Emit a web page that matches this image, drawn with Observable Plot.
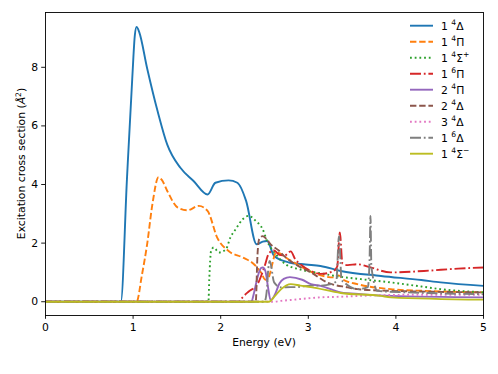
<!DOCTYPE html>
<html>
<head>
<meta charset="utf-8">
<script src="https://cdn.jsdelivr.net/npm/d3@7"></script>
<script src="https://cdn.jsdelivr.net/npm/@observablehq/plot@0.6"></script>
<style>
  html, body { margin: 0; padding: 0; background: #fff; }
  svg { font-family: "DejaVu Sans", sans-serif; }
</style>
</head>
<body>
<div id="chart"></div>
<script>
// ---- data (Energy in eV, cross section in Å^2) ----
const x_1_4Delta = [0, 0.86, 0.93, 0.99, 1.02, 1.04, 1.07, 1.16, 1.28, 1.39, 1.54, 1.69, 1.85, 1.94, 2.09, 2.19, 2.29, 2.41, 2.48, 2.53, 2.61, 2.78, 2.97, 3.14, 3.37, 3.83, 4.29, 4.51, 5.0];
const y_1_4Delta = [0, 0, 4.2, 7.6, 9.1, 9.38, 9.2, 7.97, 6.5, 5.36, 4.57, 4.12, 3.66, 4.06, 4.14, 4.06, 3.44, 1.96, 2.05, 2.07, 1.56, 1.34, 1.27, 1.22, 1.05, 0.88, 0.74, 0.66, 0.54];

const x_1_4Pi = [0, 1.04, 1.1, 1.16, 1.22, 1.29, 1.33, 1.39, 1.51, 1.62, 1.75, 1.85, 1.96, 2.09, 2.25, 2.38, 2.46, 2.51, 2.55, 2.59, 2.63, 2.8, 3.14, 3.29, 3.35, 3.4, 3.56, 3.94, 4.32, 5.0];
const y_1_4Pi = [0, 0, 0.9, 1.96, 3.32, 4.25, 4.15, 3.78, 3.21, 3.12, 3.27, 3.1, 2.19, 1.73, 1.51, 1.28, 1.0, 0.75, 0.85, 1.3, 1.68, 1.4, 0.9, 0.83, 0.9, 0.75, 0.6, 0.43, 0.37, 0.32];

const x_1_4SigmaP = [0, 1.86, 1.87, 1.89, 1.92, 1.98, 2.06, 2.11, 2.17, 2.25, 2.32, 2.4, 2.48, 2.53, 2.63, 2.74, 2.91, 3.14, 3.37, 3.6, 3.94, 4.29, 4.51, 5.0];
const y_1_4SigmaP = [0, 0, 0.8, 1.73, 1.85, 1.68, 1.79, 2.19, 2.47, 2.81, 2.93, 2.76, 2.47, 2.07, 1.62, 1.28, 1.1, 0.97, 0.85, 0.77, 0.66, 0.52, 0.43, 0.32];

const x_1_6Pi = [0, 2.21, 2.25, 2.32, 2.42, 2.5, 2.55, 2.61, 2.67, 2.73, 2.8, 2.85, 2.9, 3.03, 3.14, 3.27, 3.33, 3.36, 3.39, 3.45, 3.56, 3.71, 3.94, 4.32, 4.71, 5.0];
const y_1_6Pi = [0, 0, 0.15, 0.35, 0.6, 1.2, 1.65, 1.75, 1.6, 1.58, 1.72, 1.45, 1.3, 1.05, 0.95, 1.02, 1.2, 2.36, 1.3, 1.25, 1.28, 1.17, 1.0, 1.05, 1.13, 1.17];

const x_2_4Pi = [0, 2.35, 2.38, 2.42, 2.46, 2.48, 2.51, 2.54, 2.57, 2.62, 2.67, 2.72, 2.79, 2.93, 3.03, 3.14, 3.37, 3.6, 3.94, 5.0];
const y_2_4Pi = [0, 0, 0.3, 0.83, 1.15, 1.17, 1.05, 0.5, 0.05, 0.25, 0.62, 0.78, 0.84, 0.75, 0.6, 0.54, 0.32, 0.26, 0.2, 0.15];

const x_2_4Delta = [0, 2.4, 2.42, 2.44, 2.48, 2.52, 2.57, 2.67, 2.71, 2.82, 2.93, 3.03, 3.22, 3.45, 3.56, 3.83, 3.94, 5.0];
const y_2_4Delta = [0, 0, 1.6, 2.14, 2.24, 2.15, 1.96, 1.73, 1.6, 1.34, 1.15, 1.0, 0.65, 0.49, 0.43, 0.38, 0.37, 0.32];

const x_3_4Delta = [0, 2.6, 2.69, 2.8, 3.14, 3.37, 3.6, 4.29, 5.0];
const y_3_4Delta = [0, 0, 0.03, 0.06, 0.15, 0.17, 0.2, 0.24, 0.24];

const x_1_6Delta = [0, 2.5, 2.53, 2.54, 2.56, 2.61, 2.69, 2.8, 2.86, 3.03, 3.14, 3.26, 3.32, 3.35, 3.38, 3.41, 3.56, 3.68, 3.7, 3.71, 3.72, 3.79, 4.13, 5.0];
const y_1_6Delta = [0, 0, 0.5, 1.0, 1.39, 0.66, 0.49, 0.5, 0.5, 0.55, 0.55, 0.6, 0.7, 2.24, 0.75, 0.66, 0.43, 0.5, 1.5, 2.93, 1.2, 0.37, 0.32, 0.26];

const x_1_4SigmaM = [0, 2.55, 2.62, 2.69, 2.8, 2.91, 3.03, 3.37, 3.83, 3.94, 5.0];
const y_1_4SigmaM = [0, 0, 0.2, 0.43, 0.6, 0.55, 0.5, 0.3, 0.2, 0.15, 0.07];

const xTicks = [0, 1, 2, 3, 4, 5];
const yTicks = [0, 2, 4, 6, 8];

// legend labels: [number, superscript, symbol, trailing superscript]
const labels = [
  ["1", "4", "Δ", ""], ["1", "4", "Π", ""], ["1", "4", "Σ", "+"], ["1", "6", "Π", ""],
  ["2", "4", "Π", ""], ["2", "4", "Δ", ""], ["3", "4", "Δ", ""], ["1", "6", "Δ", ""], ["1", "4", "Σ", "−"]
];
const colors = ["#1f77b4", "#ff7f0e", "#2ca02c", "#d62728", "#9467bd", "#8c564b", "#e377c2", "#7f7f7f", "#bcbd22"];
const dashes = ["none", "6.4,2.8", "1.8,2.9", "11,2.8,1.8,2.8", "none", "6.4,2.8", "1.8,2.9", "11,2.8,1.8,2.8", "none"];

const xs = [x_1_4Delta, x_1_4Pi, x_1_4SigmaP, x_1_6Pi, x_2_4Pi, x_2_4Delta, x_3_4Delta, x_1_6Delta, x_1_4SigmaM];
const ys = [y_1_4Delta, y_1_4Pi, y_1_4SigmaP, y_1_6Pi, y_2_4Pi, y_2_4Delta, y_3_4Delta, y_1_6Delta, y_1_4SigmaM];

const series = xs.map((xa, i) => xa.map((x, j) => ({x, y: ys[i][j]})));

const W = 498, H = 374;
const mL = 45, mR = 15, mT = 12, mB = 59;
const LW = 1.9;

const plot = Plot.plot({
  width: W, height: H,
  marginLeft: mL, marginRight: mR, marginTop: mT, marginBottom: mB,
  style: {fontFamily: "DejaVu Sans, sans-serif", fontSize: "10.8px", background: "#fff", color: "#000"},
  x: {domain: [0, 5], label: null},
  y: {domain: [-0.47, 9.87], label: null},
  marks: [
    ...series.map((d, i) => Plot.line(d, {
      x: "x", y: "y", stroke: colors[i], strokeWidth: LW,
      strokeDasharray: dashes[i], curve: "monotone-x", strokeLinecap: "butt", strokeLinejoin: "round"
    })),
    Plot.axisX({ticks: xTicks, tickSize: 3.8, tickPadding: 3.6, tickFormat: d => String(d), stroke: "#000", strokeWidth: 0.9, fill: "#000"}),
    Plot.axisY({ticks: yTicks, tickSize: 3.8, tickPadding: 3.6, tickFormat: d => String(d), stroke: "#000", strokeWidth: 0.9, fill: "#000"}),
    Plot.frame({stroke: "#000", strokeWidth: 0.9})
  ]
});

const svg = d3.select(plot);

// axis labels
svg.append("text")
  .attr("x", mL + (W - mL - mR) / 2).attr("y", 346)
  .attr("text-anchor", "middle").attr("font-size", "10.8px").attr("fill", "#000")
  .text("Energy (eV)");

const yl = svg.append("text")
  .attr("transform", `translate(25,${mT + (H - mT - mB) / 2}) rotate(-90)`)
  .attr("text-anchor", "middle").attr("font-size", "10.8px").attr("fill", "#000");
yl.append("tspan").text("Excitation cross section (");
yl.append("tspan").attr("font-style", "italic").text("Å");
yl.append("tspan").attr("font-size", "7.6px").attr("dy", "-4.5").text("2");
yl.append("tspan").attr("dy", "4.5").text(")");

// legend
const lg = svg.append("g").attr("text-anchor", "start");
labels.forEach((lab, i) => {
  const cy = 25.7 + 16.0 * i;
  lg.append("line").attr("x1", 410).attr("x2", 433).attr("y1", cy).attr("y2", cy)
    .attr("stroke", colors[i]).attr("stroke-width", LW)
    .attr("stroke-dasharray", dashes[i]);
  const t = lg.append("text").attr("x", 441).attr("y", cy + 4).attr("text-anchor", "start")
    .attr("font-size", "10.8px").attr("fill", "#000");
  t.append("tspan").text(lab[0] + " ");
  t.append("tspan").attr("font-size", "7.6px").attr("dy", "-4.5").text(lab[1]);
  t.append("tspan").attr("dy", "4.5").text(lab[2]);
  if (lab[3]) {
    t.append("tspan").attr("font-size", "7.6px").attr("dy", "-4.5").text(lab[3]);
  }
});

document.getElementById("chart").appendChild(plot);
</script>
</body>
</html>
